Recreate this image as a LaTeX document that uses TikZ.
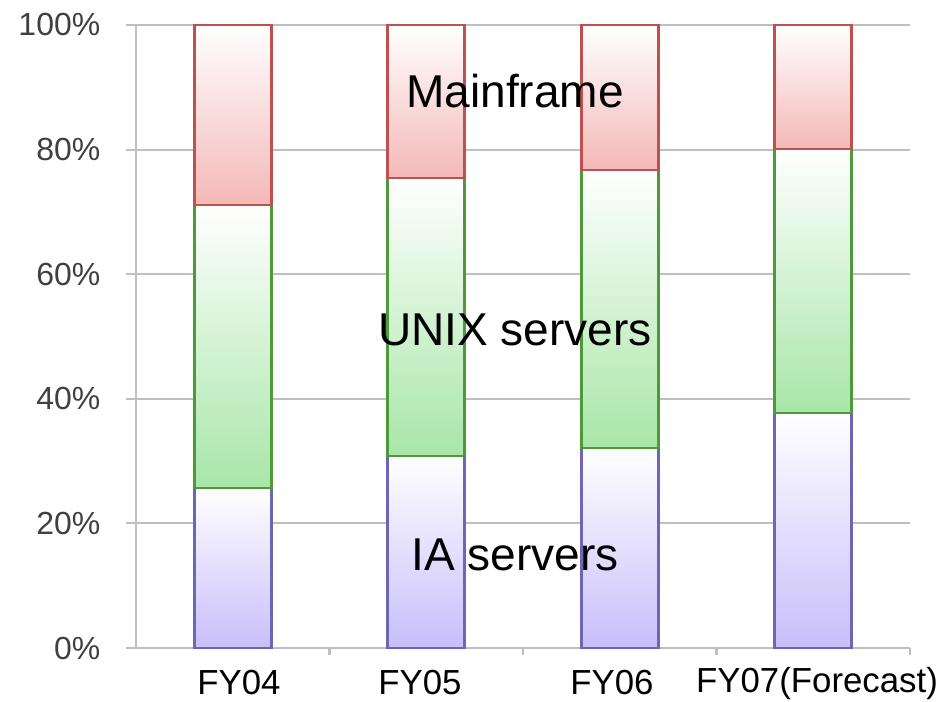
\documentclass[tikz,border=0pt]{standalone}
\usepackage{fontspec}
\setmainfont{Liberation Sans}
\usepackage{xcolor}
\usepackage{tikz}
\usetikzlibrary{positioning,calc}

\definecolor{gridgray}{HTML}{BFBFBF}
\definecolor{labgray}{HTML}{404040}
\definecolor{mfline}{HTML}{C0504D}
\definecolor{mffill}{HTML}{F4B8B8}
\definecolor{uxline}{HTML}{4E9A3A}
\definecolor{uxfill}{HTML}{A8E6A8}
\definecolor{ialine}{HTML}{6B66B5}
\definecolor{iafill}{HTML}{C8BEFA}

\tikzset{
  grid/.style={draw=gridgray,line width=0.6pt},
  ylab/.style={anchor=east,text=labgray,font=\fontsize{9.1}{10}\selectfont,inner sep=0pt},
  xlab/.style={text=black,font=\fontsize{9.9}{11}\selectfont,inner sep=0pt},
  seglab/.style={text=black,font=\fontsize{13.1}{15}\selectfont,inner sep=0pt},
  iaseg/.style={draw=ialine,line width=0.7pt,top color=white,bottom color=iafill},
  uxseg/.style={draw=uxline,line width=0.7pt,top color=white,bottom color=uxfill},
  mfseg/.style={draw=mfline,line width=0.7pt,top color=white,bottom color=mffill}
}

\begin{document}
\begin{tikzpicture}[x=0.1mm,y=0.1mm]
        \useasboundingbox (0,0) rectangle (950,701);

        % Draw the grid lines and y labels
        \foreach \k/\txt in {0/0\%,1/20\%,2/40\%,3/60\%,4/80\%,5/100\%} {
            \draw[grid] (126,53+124.6*\k) -- (910,53+124.6*\k);
            \node[ylab] (y\k) at (101,53+124.6*\k) {\txt};
        }

        % Draw the axis and the ticks between categories
        \draw[grid] (136,53) -- (136,676);
        \foreach \tx in {329.5,523,716.5,910}
            \draw[grid] (\tx,53) -- (\tx,46);

        % Draw the stacked bars (bottom to top)
        \foreach \cx/\ia/\ux [count=\i] in {233/25.7/71.1,426/30.8/75.4,620/32.1/76.7,813/37.7/80.1} {
            \draw[iaseg] (\cx-38.5,53) rectangle (\cx+38.5,53+6.23*\ia);
            \draw[uxseg] (\cx-38.5,53+6.23*\ia) rectangle (\cx+38.5,53+6.23*\ux);
            \draw[mfseg] (\cx-38.5,53+6.23*\ux) rectangle (\cx+38.5,676);
        }

        % Add category labels
        \node[xlab] (fy04) at (239,18) {FY04};
        \node[xlab] (fy05) at (420,18) {FY05};
        \node[xlab] (fy06) at (612,18) {FY06};
        \node[xlab] (fy07) at (817,18) {FY07(Forecast)};

        % Add segment labels
        \node[seglab] (mainframe) at (515,610) {Mainframe};
        \node[seglab] (unix) at (515,371) {UNIX servers};
        \node[seglab] (ia) at (515,146) {IA servers};

\end{tikzpicture}
\end{document}
